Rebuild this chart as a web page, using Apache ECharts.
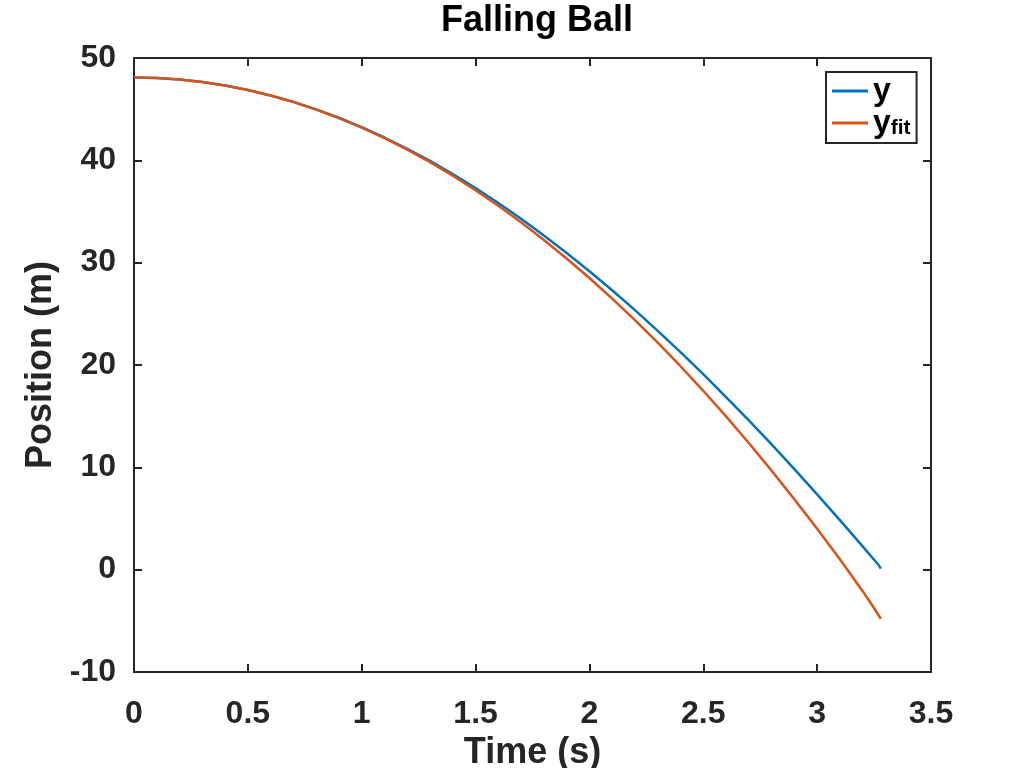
<!DOCTYPE html>
<html>
<head>
<meta charset="utf-8">
<script src="https://cdn.jsdelivr.net/npm/echarts@6/dist/echarts.min.js"></script>
<style>
  html, body { margin: 0; padding: 0; background: #fff; }
  #chart { width: 1029px; height: 768px; }
</style>
</head>
<body>
<div id="chart"></div>
<script>
// time samples (s)
const time = [0, 0.1, 0.2, 0.3, 0.4, 0.5, 0.6, 0.7, 0.8, 0.9, 1.0, 1.1, 1.2, 1.3, 1.4, 1.5, 1.6, 1.7,
    1.8, 1.9, 2.0, 2.1, 2.2, 2.3, 2.4, 2.5, 2.6, 2.7, 2.8, 2.9, 3.0, 3.1, 3.2, 3.25, 3.27, 3.28];

// measured position y (m)
const yMeasured = [48.1, 48.05, 47.90, 47.66, 47.32, 46.88, 46.34, 45.71, 44.98, 44.16, 43.24, 42.23,
    41.13, 39.94, 38.65, 37.29, 35.83, 34.29, 32.66, 30.95, 29.16, 27.30, 25.36, 23.34, 21.25, 19.10,
    16.87, 14.58, 12.24, 9.83, 7.36, 4.84, 2.28, 0.97, 0.45, 0.1];

// fitted position y_fit (m)
const yFit = [48.1, 48.05, 47.90, 47.66, 47.32, 46.88, 46.34, 45.70, 44.96, 44.13, 43.20, 42.17,
    41.04, 39.82, 38.50, 37.08, 35.56, 33.94, 32.22, 30.41, 28.50, 26.49, 24.38, 22.18, 19.88, 17.48,
    14.98, 12.38, 9.68, 6.89, 4.00, 1.01, -2.10, -3.75, -4.45, -4.8];

const xTicks = { min: 0, max: 3.5, interval: 0.5 };
const yTicks = { min: -10, max: 50, interval: 10 };

const ink = '#262626';
const font = 'Liberation Sans, Arial, sans-serif';

const chart = echarts.init(document.getElementById('chart'));

function boxAxis(pos, range, showLabels, extra) {
    return Object.assign({
        type: 'value',
        position: pos,
        min: range.min,
        max: range.max,
        interval: range.interval,
        axisLine: { show: true, onZero: false, lineStyle: { color: ink, width: 2 } },
        axisTick: { show: true, inside: true, length: 8, lineStyle: { color: ink, width: 2 } },
        axisLabel: { show: showLabels, color: ink, fontFamily: font, fontWeight: 'bold', fontSize: 32 },
        splitLine: { show: false }
    }, extra || {});
}

chart.setOption({
    animation: false,
    backgroundColor: '#fff',
    title: {
        text: 'Falling Ball',
        left: 532,
        textAlign: 'center',
        top: -2,
        textStyle: { color: '#000', fontFamily: font, fontWeight: 'bold', fontSize: 36 }
    },
    grid: { left: 134, right: 98, top: 58, bottom: 96, outerBoundsMode: 'none', containLabel: false },
    legend: {
        orient: 'vertical',
        left: 826,
        top: 72,
        data: ['y', 'yfit'],
        icon: 'rect',
        itemWidth: 36,
        itemHeight: 3,
        itemGap: 0,
        padding: [3, 6, 4, 6],
        borderColor: ink,
        borderWidth: 2,
        borderRadius: 0,
        backgroundColor: '#fff',
        formatter: name => name === 'yfit' ? '{m|y}{s|fit}' : '{m|y}',
        textStyle: {
            color: '#000',
            rich: {
                m: { fontFamily: font, fontWeight: 'bold', fontSize: 32, lineHeight: 32 },
                s: { fontFamily: font, fontWeight: 'bold', fontSize: 21, lineHeight: 32, verticalAlign: 'bottom', padding: [9, 0, 0, 0] }
            }
        }
    },
    xAxis: [
        boxAxis('bottom', xTicks, true, {
            name: 'Time (s)',
            nameLocation: 'middle',
            nameGap: 54,
            nameTextStyle: { color: ink, fontFamily: font, fontWeight: 'bold', fontSize: 36 },
            axisLabel: { show: true, color: ink, fontFamily: font, fontWeight: 'bold', fontSize: 32, margin: 26 }
        }),
        boxAxis('top', xTicks, false)
    ],
    yAxis: [
        boxAxis('left', yTicks, true, {
            name: 'Position (m)',
            nameLocation: 'middle',
            nameGap: 71,
            nameTextStyle: { color: ink, fontFamily: font, fontWeight: 'bold', fontSize: 36 },
            axisLabel: { show: true, color: ink, fontFamily: font, fontWeight: 'bold', fontSize: 32, margin: 18 }
        }),
        boxAxis('right', yTicks, false)
    ],
    series: [
        {
            name: 'y',
            type: 'line',
            xAxisIndex: 0,
            yAxisIndex: 0,
            showSymbol: false,
            symbol: 'none',
            lineStyle: { color: '#0072BD', width: 2.5 },
            itemStyle: { color: '#0072BD' },
            data: time.map((t, i) => [t, yMeasured[i]])
        },
        {
            name: 'yfit',
            type: 'line',
            xAxisIndex: 0,
            yAxisIndex: 0,
            showSymbol: false,
            symbol: 'none',
            lineStyle: { color: '#D95319', width: 2.5 },
            itemStyle: { color: '#D95319' },
            data: time.map((t, i) => [t, yFit[i]])
        }
    ]
});
</script>
</body>
</html>
